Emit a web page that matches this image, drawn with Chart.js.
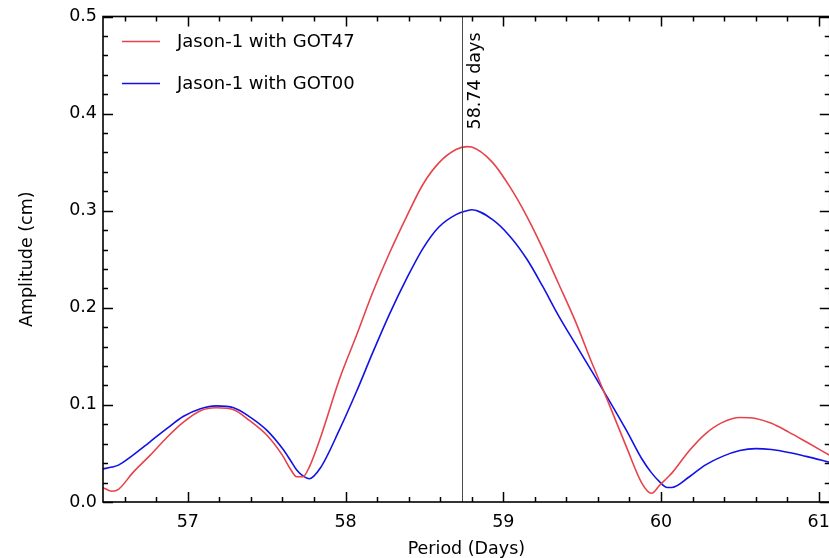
<!DOCTYPE html>
<html><head><meta charset="utf-8">
<script src="https://cdn.jsdelivr.net/npm/chart.js@4.4.0/dist/chart.umd.min.js"></script>
<style>
html,body{margin:0;padding:0;background:#fff;overflow:hidden}
#wrap{width:840px;height:558px;position:relative}
</style></head><body><div id="wrap"><canvas id="c"></canvas></div>
<script>
// ---- data ----
const periods = [56.46,56.52,56.56,56.65,56.76,56.87,56.97,57.08,57.18,57.29,57.39,57.50,57.60,57.65,57.69,57.73,57.77,57.84,57.96,58.07,58.17,58.28,58.39,58.49,58.59,58.70,58.77,58.80,58.93,59.04,59.15,59.25,59.35,59.46,59.56,59.67,59.78,59.88,59.94,59.99,60.04,60.07,60.18,60.28,60.39,60.50,60.60,60.70,60.81,60.92,61.07];
const got47 = [0.015,0.011,0.013,0.030,0.048,0.067,0.082,0.094,0.097,0.095,0.084,0.069,0.048,0.034,0.026,0.026,0.036,0.066,0.126,0.172,0.215,0.257,0.295,0.327,0.349,0.363,0.366,0.3655,0.350,0.325,0.294,0.261,0.225,0.185,0.144,0.101,0.057,0.019,0.009,0.017,0.025,0.030,0.053,0.070,0.082,0.087,0.086,0.081,0.072,0.062,0.048];
const got00 = [0.034,0.036,0.038,0.048,0.062,0.076,0.088,0.096,0.099,0.097,0.088,0.074,0.055,0.043,0.033,0.027,0.024,0.035,0.074,0.114,0.153,0.194,0.231,0.261,0.283,0.296,0.300,0.301,0.291,0.274,0.250,0.222,0.192,0.162,0.135,0.105,0.074,0.044,0.030,0.021,0.015,0.015,0.026,0.038,0.047,0.053,0.055,0.054,0.051,0.047,0.041];
const seriesLabels = ['Jason-1 with GOT47','Jason-1 with GOT00'];
const markerPeriod = 58.74;
const markerLabel = '58.74 days';
const xRange = [56.462, 61.07];
const yRange = [0, 0.5];
const xMajorStep = 1, xMinorStep = 0.2;
const yMajorStep = 0.1, yMinorStep = 0.02;
const xTitle = 'Period (Days)';
const yTitle = 'Amplitude (cm)';

const FONT = 'DejaVu Sans';
const FS = 17.5;
const RED = '#e6434a', BLUE = '#1212e6';

const decor = {
  id: 'decor',
  afterDatasetsDraw(chart) {
    const ctx = chart.ctx, a = chart.chartArea;
    const xs = chart.scales.x, ys = chart.scales.y;
    ctx.save();
    // marker line
    const mx = Math.round(xs.getPixelForValue(markerPeriod)) + 0.5;
    ctx.strokeStyle = '#4a4a4a'; ctx.lineWidth = 1;
    ctx.beginPath(); ctx.moveTo(mx, a.top); ctx.lineTo(mx, a.bottom); ctx.stroke();
    // marker label
    ctx.save();
    ctx.translate(mx + 4, a.top + 16);
    ctx.rotate(-Math.PI / 2);
    ctx.fillStyle = '#000'; ctx.font = FS + 'px "' + FONT + '"';
    ctx.textAlign = 'right'; ctx.textBaseline = 'top';
    ctx.fillText(markerLabel, 0, 0);
    ctx.restore();
    // ticks (inward)
    ctx.strokeStyle = '#000'; ctx.lineWidth = 1.5;
    const eps = 1e-6;
    const n0 = Math.ceil(xRange[0] / xMinorStep - eps), n1 = Math.floor(xRange[1] / xMinorStep + eps);
    for (let n = n0; n <= n1; n++) {
      const v = n * xMinorStep;
      const major = Math.abs(v / xMajorStep - Math.round(v / xMajorStep)) < 1e-6;
      const len = major ? 10 : 5;
      const px = Math.round(xs.getPixelForValue(v)) + 0.5;
      ctx.beginPath();
      ctx.moveTo(px, a.bottom); ctx.lineTo(px, a.bottom - len);
      ctx.moveTo(px, a.top); ctx.lineTo(px, a.top + len);
      ctx.stroke();
    }
    const m0 = Math.ceil(yRange[0] / yMinorStep - eps), m1 = Math.floor(yRange[1] / yMinorStep + eps);
    for (let n = m0; n <= m1; n++) {
      const v = n * yMinorStep;
      const major = Math.abs(v / yMajorStep - Math.round(v / yMajorStep)) < 1e-6;
      const len = major ? 10 : 5;
      const py = Math.round(ys.getPixelForValue(v)) + 0.5;
      ctx.beginPath();
      ctx.moveTo(a.left, py); ctx.lineTo(a.left + len, py);
      ctx.moveTo(a.right, py); ctx.lineTo(a.right - len, py);
      ctx.stroke();
    }
    // spines
    ctx.strokeStyle = '#000'; ctx.lineWidth = 1.6;
    ctx.strokeRect(a.left, a.top, a.right - a.left, a.bottom - a.top);
    // legend
    const ds = chart.data.datasets;
    ctx.font = '18px "' + FONT + '"';
    ctx.textAlign = 'left'; ctx.textBaseline = 'middle';
    ds.forEach((d, i) => {
      const y = a.top + 25 + i * 42;
      ctx.strokeStyle = d.borderColor; ctx.lineWidth = 1.6;
      ctx.beginPath(); ctx.moveTo(a.left + 19, y); ctx.lineTo(a.left + 57, y); ctx.stroke();
      ctx.fillStyle = '#000';
      ctx.fillText(d.label, a.left + 74, y + 1);
    });
    ctx.restore();
  }
};

new Chart(document.getElementById('c'), {
  type: 'line',
  data: {
    datasets: [
      { label: seriesLabels[0], data: periods.map((p, i) => ({x: p, y: got47[i]})), borderColor: RED, borderWidth: 1.6, pointRadius: 0, cubicInterpolationMode: 'monotone', fill: false },
      { label: seriesLabels[1], data: periods.map((p, i) => ({x: p, y: got00[i]})), borderColor: BLUE, borderWidth: 1.6, pointRadius: 0, cubicInterpolationMode: 'monotone', fill: false }
    ]
  },
  options: {
    responsive: true, maintainAspectRatio: false, animation: false,
    layout: { padding: { top: 16, right: 9, left: 0, bottom: 0 } },
    plugins: { legend: { display: false }, tooltip: { enabled: false } },
    scales: {
      x: {
        type: 'linear', min: xRange[0], max: xRange[1],
        grid: { display: false, drawTicks: false, tickLength: 0 },
        border: { display: false },
        ticks: { stepSize: xMajorStep, includeBounds: false, padding: 10, color: '#000', font: { family: FONT, size: FS }, maxRotation: 0, callback: v => String(Math.round(v)) },
        title: { display: true, text: xTitle, color: '#000', font: { family: FONT, size: FS, lineHeight: 1 }, padding: { top: 0, bottom: 0 } },
        afterFit: s => { s.height = 56; }
      },
      y: {
        min: yRange[0], max: yRange[1],
        grid: { display: false, drawTicks: false, tickLength: 0 },
        border: { display: false },
        ticks: { stepSize: yMajorStep, padding: 6, color: '#000', font: { family: FONT, size: FS }, callback: v => v.toFixed(1) },
        title: { display: true, text: yTitle, color: '#000', font: { family: FONT, size: FS, lineHeight: 1 }, padding: { top: 19, bottom: 0 } },
        afterFit: s => { s.width = 103; }
      }
    }
  },
  plugins: [decor]
});
</script></body></html>
